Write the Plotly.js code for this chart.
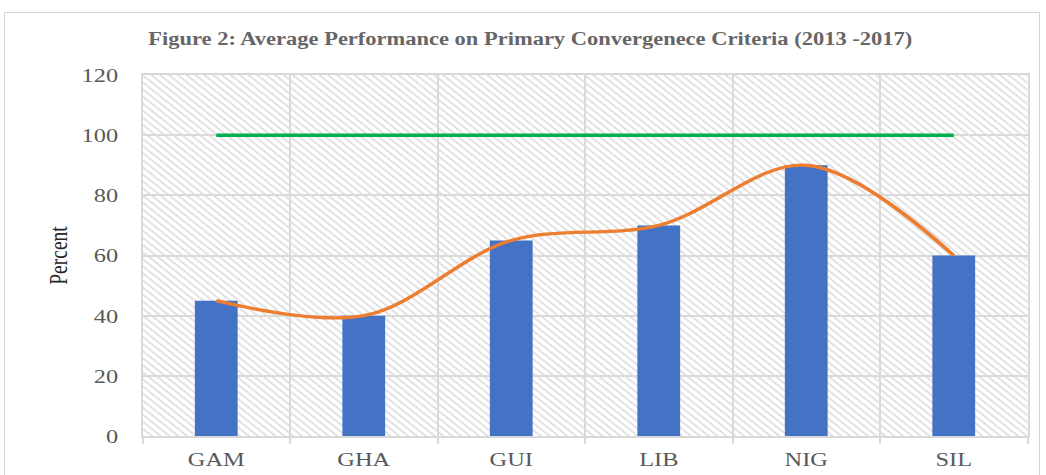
<!DOCTYPE html>
<html>
<head>
<meta charset="utf-8">
<script src="https://cdn.plot.ly/plotly-3.0.1.min.js"></script>
<style>
  html, body { margin: 0; padding: 0; background: #fff; overflow: hidden; }
  #frame { position: absolute; left: 4px; top: 12px; width: 1034px; height: 470px;
           border: 1.5px solid #d6d6d6; background: #fff; overflow: hidden; }
  #chart { width: 827.2px; height: 470px; transform: scaleX(1.25); transform-origin: 0 0; }
</style>
</head>
<body>
<div id="frame"><div id="chart"></div></div>
<script>
const categories = ["GAM", "GHA", "GUI", "LIB", "NIG", "SIL"];
const performance = [45, 40, 65, 70, 90, 60];
const target = [100, 100, 100, 100, 100, 100];
const yMax = 120;
const yTicks = [0, 20, 40, 60, 80, 100, 120];

const serif = "'Liberation Serif', 'Times New Roman', serif";

const traces = [
  {
    type: "bar", x: categories, y: categories.map(() => yMax), width: 1,
    marker: { color: "rgba(0,0,0,0)", line: { width: 0 },
      pattern: { shape: "\\", size: 5, solidity: 0.3, fgcolor: "#dcdcdc", bgcolor: "rgba(0,0,0,0)" } },
    hoverinfo: "skip", showlegend: false
  },
  {
    type: "bar", x: categories, y: performance, width: 0.29,
    marker: { color: "#4472C4", line: { width: 0 } }, showlegend: false
  },
  {
    type: "scatter", mode: "lines", x: categories, y: target,
    line: { color: "#00B050", width: 3.5 }, showlegend: false
  },
  {
    type: "scatter", mode: "lines", x: categories, y: performance,
    line: { color: "#ED7D31", width: 3.3, shape: "spline", smoothing: 1 }, showlegend: false
  }
];

const layout = {
  width: 827.2, height: 470,
  margin: { l: 110.4, r: 8.8, t: 62, b: 47 },
  paper_bgcolor: "#fff", plot_bgcolor: "#fff",
  barmode: "overlay",
  title: {
    text: "<b>Figure 2: Average Performance on Primary Convergenece Criteria (2013 -2017)</b>",
    font: { family: serif, size: 18, color: "#666666" },
    x: 0.508, xref: "container", xanchor: "center", y: 1, yref: "container", yanchor: "top", pad: { t: 19 }
  },
  xaxis: {
    type: "category", tickson: "boundaries", showgrid: true, gridcolor: "#d9d9d9", gridwidth: 1.6,
    showline: true, linecolor: "#d9d9d9", linewidth: 2, mirror: true,
    ticks: "outside", ticklen: 6, tickcolor: "#d9d9d9", tickwidth: 1.6, ticklabelstandoff: 5,
    tickfont: { family: serif, size: 19.5, color: "#595959" }, range: [-0.5, 5.5]
  },
  yaxis: {
    range: [0, yMax], tickvals: yTicks, showgrid: true, gridcolor: "#d9d9d9", gridwidth: 2,
    showline: true, linecolor: "#d9d9d9", linewidth: 1.6, mirror: true, zeroline: false,
    ticks: "", ticklabelstandoff: 14, tickfont: { family: serif, size: 19.5, color: "#595959" },
    title: { text: "Percent", font: { family: serif, size: 19.5, color: "#262626" }, standoff: 6 }
  },
  hovermode: false
};

Plotly.newPlot("chart", traces, layout, { displayModeBar: false, staticPlot: true });
</script>
</body>
</html>
